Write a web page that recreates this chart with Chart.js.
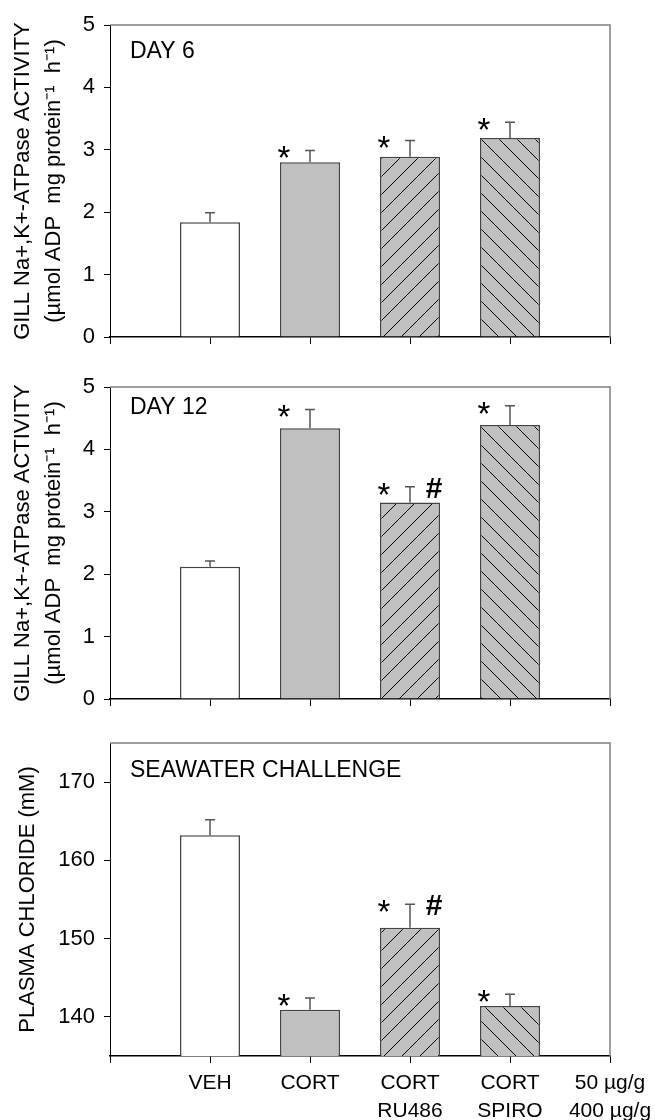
<!DOCTYPE html>
<html>
<head>
<meta charset="utf-8">
<script src="https://cdn.jsdelivr.net/npm/chart.js@4.4.1/dist/chart.umd.min.js"></script>
<style>
  body { margin: 0; background: #fff; }
  canvas { position: absolute; left: 0; }
</style>
</head>
<body>
<canvas id="day6" width="655" height="360" style="top:0px"></canvas>
<canvas id="day12" width="655" height="360" style="top:360px"></canvas>
<canvas id="seawater" width="655" height="400" style="top:720px"></canvas>
<script>
const categories = ['VEH', 'CORT', ['CORT', 'RU486'], ['CORT', 'SPIRO']];
const doseLabel = ['50 \u00b5g/g', '400 \u00b5g/g'];

const day6Mean = [1.84, 2.80, 2.89, 3.19];
const day6Sem = [0.15, 0.19, 0.26, 0.25];
const day6Star = [false, true, true, true];
const day6Hash = [false, false, false, false];

const day12Mean = [2.12, 4.34, 3.15, 4.39];
const day12Sem = [0.09, 0.30, 0.25, 0.31];
const day12Star = [false, true, true, true];
const day12Hash = [false, false, true, false];

const chlorideMean = [163.2, 140.9, 151.4, 141.4];
const chlorideSem = [2.0, 1.5, 3.0, 1.5];
const chlorideStar = [false, true, true, true];
const chlorideHash = [false, false, true, false];

const activityTicks = [0, 1, 2, 3, 4, 5];
const chlorideTicks = [140, 150, 160, 170];

const FONT = "'Liberation Sans', Arial, Helvetica, sans-serif";
const activityTitle = ['GILL Na+,K+-ATPase ACTIVITY', '(\u00b5mol ADP  mg protein\u207b\u00b9  h\u207b\u00b9)'];

function hatch(dir) {
  const s = 18;
  const c = document.createElement('canvas');
  c.width = s; c.height = s;
  const g = c.getContext('2d');
  g.fillStyle = '#c0c0c0';
  g.fillRect(0, 0, s, s);
  g.strokeStyle = '#000';
  g.lineWidth = 1;
  g.beginPath();
  if (dir === '/') {
    g.moveTo(-2, s + 2); g.lineTo(s + 2, -2);
    g.moveTo(-2, 2); g.lineTo(2, -2);
    g.moveTo(s - 2, s + 2); g.lineTo(s + 2, s - 2);
  } else {
    g.moveTo(-2, -2); g.lineTo(s + 2, s + 2);
    g.moveTo(s - 2, -2); g.lineTo(s + 2, 2);
    g.moveTo(-2, s - 2); g.lineTo(2, s + 2);
  }
  g.stroke();
  return g.createPattern(c, 'repeat');
}

function centeredText(ctx, txt, font, x, cy) {
  ctx.font = font;
  ctx.textAlign = 'center';
  ctx.textBaseline = 'alphabetic';
  const m = ctx.measureText(txt);
  const base = cy + (m.actualBoundingBoxAscent - m.actualBoundingBoxDescent) / 2;
  ctx.fillText(txt, x, base);
}

function makePanel(id, o) {
  const marks = {
    id: 'marks',
    afterDatasetsDraw(chart) {
      const ctx = chart.ctx;
      const area = chart.chartArea;
      const y = chart.scales.y;
      const bars = chart.getDatasetMeta(0).data;
      ctx.save();
      // grey frame on top and right
      ctx.strokeStyle = '#808080';
      ctx.lineWidth = 1.5;
      ctx.beginPath();
      ctx.moveTo(area.left, area.top);
      ctx.lineTo(area.right, area.top);
      ctx.lineTo(area.right, area.bottom);
      ctx.stroke();

      o.means.forEach((m, i) => {
        const bar = bars[i + 1];
        const top = y.getPixelForValue(m + o.sems[i]);
        ctx.strokeStyle = '#555';
        ctx.lineWidth = 1.5;
        ctx.beginPath();
        ctx.moveTo(bar.x, bar.y);
        ctx.lineTo(bar.x, top);
        ctx.moveTo(bar.x - 5, top);
        ctx.lineTo(bar.x + 5, top);
        ctx.stroke();
        ctx.fillStyle = '#000';
        if (o.stars[i]) centeredText(ctx, '*', '33px ' + FONT, bar.x - 26, top + 2);
        if (o.hashes[i]) centeredText(ctx, '#', 'bold 30px ' + FONT, bar.x + 24, top + 1);
      });

      ctx.fillStyle = '#000';
      ctx.font = '23px ' + FONT;
      ctx.textAlign = 'left';
      ctx.textBaseline = 'middle';
      ctx.fillText(o.label, area.left + 20, area.top + o.labelDy);
      ctx.restore();
    }
  };

  new Chart(document.getElementById(id), {
    type: 'bar',
    data: {
      labels: [''].concat(categories, [doseLabel]),
      datasets: [{
        data: [null].concat(o.means, [null]),
        backgroundColor: ['rgba(0,0,0,0)', '#ffffff', '#c0c0c0', hatch('/'), hatch('\\'), 'rgba(0,0,0,0)'],
        borderColor: '#444',
        borderWidth: 1.5,
        barPercentage: 0.6,
        categoryPercentage: 1
      }]
    },
    options: {
      responsive: false,
      devicePixelRatio: 1,
      animation: false,
      layout: { padding: { top: o.padTop, right: 45, left: 0, bottom: 0 } },
      plugins: { legend: { display: false }, tooltip: { enabled: false } },
      scales: {
        x: {
          type: 'category',
          offset: false,
          z: 1,
          grid: { offset: false, drawOnChartArea: false, tickLength: 7, color: '#000' },
          border: { color: '#000', width: 1.5 },
          ticks: {
            autoSkip: false,
            maxRotation: 0,
            padding: 7,
            color: '#000',
            font: { size: 21, family: FONT, lineHeight: 1.3 },
            callback: function (v) { return o.showLabels ? this.getLabelForValue(v) : ''; }
          },
          afterFit(s) { s.height = o.xHeight; s.paddingLeft = 0; s.paddingRight = 0; }
        },
        y: {
          min: o.min,
          max: o.max,
          afterBuildTicks(s) { s.ticks = o.ticks.map(v => ({ value: v })); },
          grid: { drawOnChartArea: false, tickLength: 6, color: '#000' },
          border: { color: '#000', width: 1 },
          ticks: { padding: 9, color: '#000', font: { size: 22, family: FONT } },
          title: {
            display: true,
            text: o.yTitle,
            color: '#000',
            font: { size: 22, family: FONT, lineHeight: 1.4 },
            padding: { top: o.titlePad, bottom: 0 }
          },
          afterFit(s) { s.width = 110; s.paddingTop = 0; s.paddingBottom = 0; }
        }
      }
    },
    plugins: [marks]
  });
}

makePanel('day6', {
  means: day6Mean, sems: day6Sem, stars: day6Star, hashes: day6Hash,
  ticks: activityTicks, min: 0, max: 5, yTitle: activityTitle, titlePad: 8,
  label: 'DAY 6', labelDy: 27, showLabels: false, padTop: 25, xHeight: 23
});
makePanel('day12', {
  means: day12Mean, sems: day12Sem, stars: day12Star, hashes: day12Hash,
  ticks: activityTicks, min: 0, max: 5, yTitle: activityTitle, titlePad: 8,
  label: 'DAY 12', labelDy: 21, showLabels: false, padTop: 27, xHeight: 21
});
makePanel('seawater', {
  means: chlorideMean, sems: chlorideSem, stars: chlorideStar, hashes: chlorideHash,
  ticks: chlorideTicks, min: 135, max: 175, yTitle: 'PLASMA CHLORIDE (mM)', titlePad: 13,
  label: 'SEAWATER CHALLENGE', labelDy: 28, showLabels: true, padTop: 23, xHeight: 64
});
</script>
</body>
</html>
